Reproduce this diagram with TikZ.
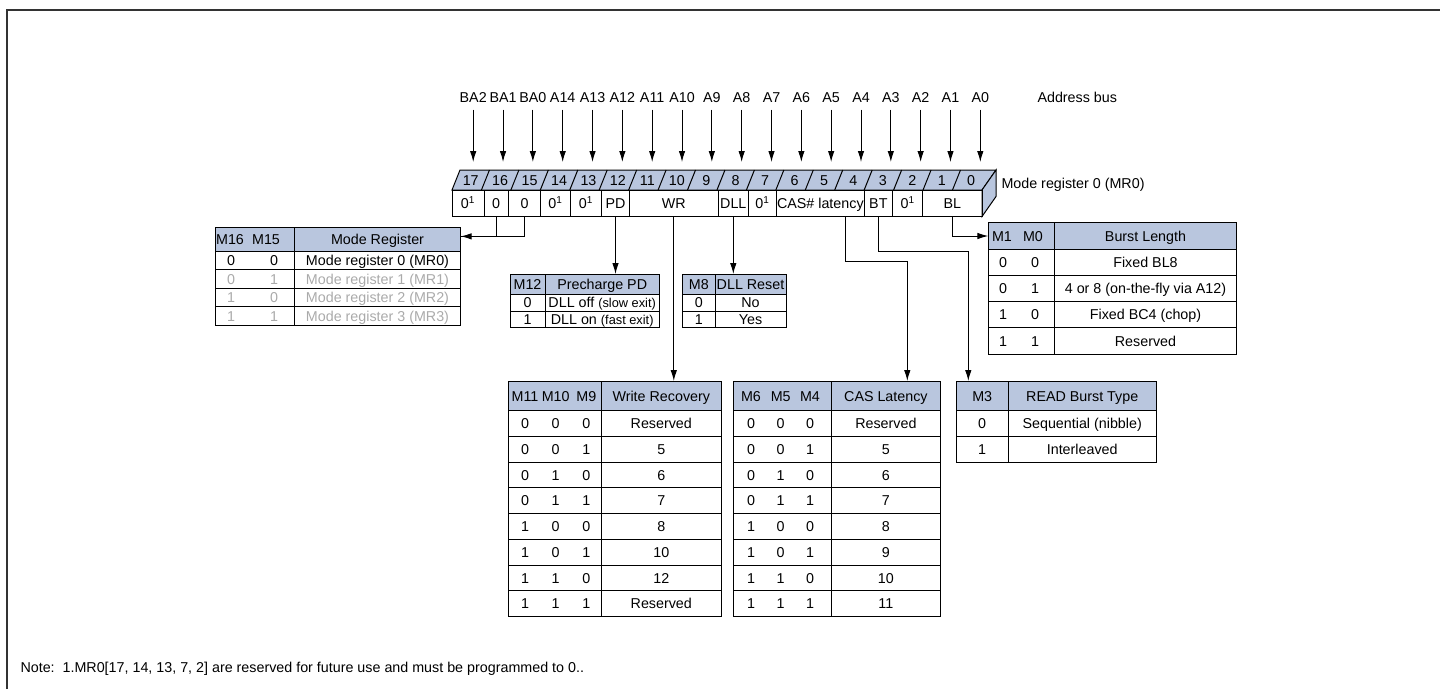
\documentclass[tikz,border=0pt]{standalone}
\usepackage{fontspec}
\setmainfont{Liberation Sans}
\usetikzlibrary{arrows.meta}

\begin{document}
\begin{tikzpicture}[x=1pt, y=-1pt, >={Latex[length=11pt,width=6.5pt]},
    font=\fontsize{14.3}{17}\selectfont, line width=1pt,
    regcell/.style={draw, minimum height=26.5pt, inner sep=0pt, outer sep=0pt,
      text height=10.2pt, text depth=0pt},
    hdr/.style={draw, fill=hdrblue, inner sep=0pt, outer sep=0pt, anchor=north west},
    tx/.style={inner sep=0pt, text height=10.2pt, text depth=0pt}]
    \definecolor{hdrblue}{RGB}{185,198,222}   % table heads
    \definecolor{ltgray}{RGB}{170,170,170}    % unused modes

    \useasboundingbox (0,0) rectangle (1440,689);
    \draw[line width=1.4pt, black!80] (7,689) -- (7,10) -- (1440,10);

    % address bus
    \foreach \i/\t in {17/BA2,16/BA1,15/BA0,14/A14,13/A13,12/A12,11/A11,10/A10,9/A9,
        8/A8,7/A7,6/A6,5/A5,4/A4,3/A3,2/A2,1/A1,0/A0} {
      \node (lab\i) [anchor=base, inner sep=0pt] at ({473.2+29.83*(17-\i)},102) {\t};
      \coordinate (tip\i) at ({473.2+29.83*(17-\i)},162);
      \draw[->, shorten <=7pt] (lab\i.south) -- (tip\i);
    }
    \node (bus) [anchor=base west, inner sep=0pt] at (1037,102) {Address bus};

    % register box
    \draw[fill=hdrblue] (452,190) -- (460,170) -- (996,170) -- (982,190) -- cycle;
    \draw[fill=hdrblue] (982,190) -- (996,170) -- (996,196.5) -- (982,216.5) -- cycle;
    \foreach \i in {1,...,17}
      \draw ({452+29.44*\i},190) -- ++(8,-20);
    \foreach \i in {0,...,17}
      \node[tx] at ({456+29.44*(17-\i)+14.72},180) {\i};
    \foreach \l/\r/\n/\t in {452/484/c17/0\textsuperscript{1}, 484/508.3/c16/0,
        508.3/540.7/c15/0, 540.7/570/c14/0\textsuperscript{1},
        570/601.7/c13/0\textsuperscript{1}, 601.7/629.3/pd/PD, 629.3/718.3/wr/WR,
        718.3/748.3/dll/DLL, 748.3/776.7/c7/0\textsuperscript{1},
        776.7/864/cas/CAS\# latency, 864/892.7/bt/BT,
        892.7/922.7/c2/0\textsuperscript{1}, 922.7/982/bl/BL}
      \node (\n) [regcell, minimum width={(\r-\l)*1pt}] at ({(\l+\r)/2},203.25) {\t};
    \node (mr0) [tx, anchor=west] at (1001,183) {Mode register 0 (MR0)};

    % Mode Register table
    \node (mrhd) [hdr, minimum width=245.7pt, minimum height=23.3pt] at (215,227.7) {};
    \draw (mrhd.south west) rectangle (460.7,325.5);
    \draw (294.3,227.7) -- (294.3,325.5);
    \foreach \y in {269.6,288.2,306.8} \draw (215,\y) -- (460.7,\y);
    \node[tx] at (230,239.4) {M16};
    \node[tx] at (266,239.4) {M15};
    \node[tx] at (377.5,239.4) {Mode Register};
    \foreach \y/\a/\b/\t/\c in {260.3/0/0/Mode register 0 (MR0)/black,
        278.9/0/1/Mode register 1 (MR1)/ltgray, 297.5/1/0/Mode register 2 (MR2)/ltgray,
        316.1/1/1/Mode register 3 (MR3)/ltgray} {
      \node[tx, text=\c] at (231,\y) {\a};
      \node[tx, text=\c] at (274,\y) {\b};
      \node[tx, text=\c] at (377.5,\y) {\t};
    }

    % Precharge PD table
    \node (prhd) [hdr, minimum width=149.3pt, minimum height=20.3pt] at (510,274) {};
    \draw (prhd.south west) rectangle (659.3,327.7);
    \draw (545,274) -- (545,327.7);
    \draw (510,311) -- (659.3,311);
    \node[tx] at (527.5,284.2) {M12};
    \node[tx] at (602.2,284.2) {Precharge PD};
    \node[tx] at (527.5,302.7) {0};
    \node[tx] at (602.2,302.7) {DLL off {\fontsize{12.8}{15}\selectfont(slow exit)}};
    \node[tx] at (527.5,319.4) {1};
    \node[tx] at (602.2,319.4) {DLL on {\fontsize{12.8}{15}\selectfont(fast exit)}};

    % DLL Reset table
    \node (dlhd) [hdr, minimum width=103.3pt, minimum height=20.3pt] at (682.7,274) {};
    \draw (dlhd.south west) rectangle (786,327.7);
    \draw (715,274) -- (715,327.7);
    \draw (682.7,311) -- (786,311);
    \node[tx] at (698.9,284.2) {M8};
    \node[tx] at (750.5,284.2) {DLL Reset};
    \node[tx] at (698.9,302.7) {0};
    \node[tx] at (750.5,302.7) {No};
    \node[tx] at (698.9,319.4) {1};
    \node[tx] at (750.5,319.4) {Yes};

    % Burst Length table
    \node (blhd) [hdr, minimum width=248.4pt, minimum height=26.6pt] at (988.3,222.7) {};
    \draw (blhd.south west) rectangle (1236.7,354);
    \draw (1054.3,222.7) -- (1054.3,354);
    \foreach \y in {275.5,301.7,327.8} \draw (988.3,\y) -- (1236.7,\y);
    \node[tx] at (1002,236) {M1};
    \node[tx] at (1033,236) {M0};
    \node[tx] at (1145.5,236) {Burst Length};
    \foreach \y/\a/\b/\t in {262.4/0/0/Fixed BL8, 288.6/0/1/4 or 8 (on-the-fly via A12),
        314.8/1/0/Fixed BC4 (chop), 340.9/1/1/Reserved} {
      \node[tx] at (1003,\y) {\a};
      \node[tx] at (1035,\y) {\b};
      \node[tx] at (1145.5,\y) {\t};
    }

    % Write Recovery table
    \node (wrhd) [hdr, minimum width=213.4pt, minimum height=29.7pt] at (508.3,381) {};
    \draw (wrhd.south west) rectangle (721.7,616.7);
    \draw (601,381) -- (601,616.7);
    \foreach \k in {1,...,7} \draw (508.3,{410.7+25.75*\k}) -- (721.7,{410.7+25.75*\k});
    \node[tx] at (525,395.9) {M11};
    \node[tx] at (555.7,395.9) {M10};
    \node[tx] at (586.3,395.9) {M9};
    \node[tx] at (661.3,395.9) {Write Recovery};
    \foreach \k/\a/\b/\c/\v in {0/0/0/0/Reserved, 1/0/0/1/5, 2/0/1/0/6, 3/0/1/1/7,
        4/1/0/0/8, 5/1/0/1/10, 6/1/1/0/12, 7/1/1/1/Reserved} {
      \node[tx] at (525,{423.6+25.75*\k}) {\a};
      \node[tx] at (555.7,{423.6+25.75*\k}) {\b};
      \node[tx] at (586.3,{423.6+25.75*\k}) {\c};
      \node[tx] at (661.3,{423.6+25.75*\k}) {\v};
    }

    % CAS Latency table
    \node (cahd) [hdr, minimum width=207.4pt, minimum height=29.7pt] at (733.3,381) {};
    \draw (cahd.south west) rectangle (940.7,616.7);
    \draw (831,381) -- (831,616.7);
    \foreach \k in {1,...,7} \draw (733.3,{410.7+25.75*\k}) -- (940.7,{410.7+25.75*\k});
    \node[tx] at (751,395.9) {M6};
    \node[tx] at (780.7,395.9) {M5};
    \node[tx] at (810,395.9) {M4};
    \node[tx] at (885.9,395.9) {CAS Latency};
    \foreach \k/\a/\b/\c/\v in {0/0/0/0/Reserved, 1/0/0/1/5, 2/0/1/0/6, 3/0/1/1/7,
        4/1/0/0/8, 5/1/0/1/9, 6/1/1/0/10, 7/1/1/1/11} {
      \node[tx] at (751,{423.6+25.75*\k}) {\a};
      \node[tx] at (780.7,{423.6+25.75*\k}) {\b};
      \node[tx] at (810,{423.6+25.75*\k}) {\c};
      \node[tx] at (885.9,{423.6+25.75*\k}) {\v};
    }

    % READ Burst Type table
    \node (rbhd) [hdr, minimum width=200pt, minimum height=29.7pt] at (956,381) {};
    \draw (rbhd.south west) rectangle (1156,462.7);
    \draw (1008.3,381) -- (1008.3,462.7);
    \draw (956,436.7) -- (1156,436.7);
    \node[tx] at (982.2,395.9) {M3};
    \node[tx] at (1082.2,395.9) {READ Burst Type};
    \node[tx] at (982.2,423.7) {0};
    \node[tx] at (1082.2,423.7) {Sequential (nibble)};
    \node[tx] at (982.2,449.7) {1};
    \node[tx] at (1082.2,449.7) {Interleaved};

    % field connectors
    \draw (c16.south) |- ([yshift=3pt]mrhd.east);
    \draw[->] (c15.south) |- ([yshift=3pt]mrhd.east);
    \draw[->] (pd.south) -- (pd.south |- prhd.north);
    \draw[->] (wr.south) -- (wr.south |- wrhd.north);
    \draw[->] (dll.south) -- (dll.south |- dlhd.north);
    \coordinate (casbend) at (907.3,261);
    \draw[->] ([xshift=25pt]cas.south) |- (casbend) -- (casbend |- cahd.north);
    \coordinate (btbend) at (968.3,251.7);
    \draw[->] (bt.south) |- (btbend) -- (btbend |- rbhd.north);
    \draw[->] (bl.south) |- (blhd.west);

    \node (note) [tx, anchor=west] at (20,667)
      {Note:\ \ 1.MR0[17, 14, 13, 7, 2] are reserved for future use and must be programmed to 0..};
  \end{tikzpicture}
\end{document}
